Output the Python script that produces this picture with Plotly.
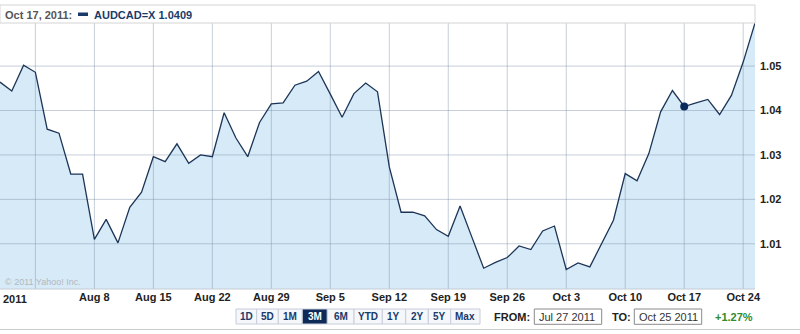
import pandas as pd
import plotly.graph_objects as go

# ---- data ----
dates = pd.bdate_range("2011-07-27", "2011-10-25").strftime("%Y-%m-%d").tolist()
values = [
    1.0464, 1.0444, 1.0502,
    1.0486, 1.0358, 1.0349, 1.0257, 1.0257,
    1.0110, 1.0155, 1.0102, 1.0182, 1.0216,
    1.0296, 1.0285, 1.0325, 1.0281, 1.0300,
    1.0296, 1.0395, 1.0338, 1.0296, 1.0373,
    1.0415, 1.0417, 1.0457, 1.0466, 1.0488,
    1.0437, 1.0385, 1.0438, 1.0462, 1.0442,
    1.0273, 1.0171, 1.0171, 1.0163, 1.0132,
    1.0117, 1.0185, 1.0115, 1.0045, 1.0058,
    1.0069, 1.0095, 1.0087, 1.0129, 1.0140,
    1.0042, 1.0057, 1.0048, 1.0101, 1.0153,
    1.0258, 1.0242, 1.0303, 1.0397, 1.0445,
    1.0409, 1.0417, 1.0425, 1.0391, 1.0434,
    1.0509, 1.0597,
]
tick_dates = ["2011-08-01", "2011-08-08", "2011-08-15", "2011-08-22", "2011-08-29",
              "2011-09-05", "2011-09-12", "2011-09-19", "2011-09-26", "2011-10-03",
              "2011-10-10", "2011-10-17", "2011-10-24"]
tick_labels = ["", "Aug 8", "Aug 15", "Aug 22", "Aug 29", "Sep 5", "Sep 12",
               "Sep 19", "Sep 26", "Oct 3", "Oct 10", "Oct 17", "Oct 24"]
y_ticks = [1.01, 1.02, 1.03, 1.04, 1.05]
y_labels = ["1.01", "1.02", "1.03", "1.04", "1.05"]
highlight_date = "2011-10-17"
highlight_value = 1.0409
buttons = ["1D", "5D", "1M", "3M", "6M", "YTD", "1Y", "2Y", "5Y", "Max"]

# ---- layout geometry (pixels) ----
W, H = 800, 334
PL, PR, PT, PB = 0, 755, 23, 289
PW, PH = PR - PL, PB - PT
Y_RANGE = [0.99982, 1.0597]
X_RANGE = ["2011-07-27", "2011-10-25"]


def px(x):
    return (x - PL) / PW


def py(y):
    return (PB - y) / PH


LINE = "#1c3557"
FILL = "rgb(214,234,248)"
GRID = "rgba(120,140,165,0.42)"
NAVY = "#1a3a6a"
FONT = "Liberation Sans, Arial, sans-serif"

fig = go.Figure()
# area fill only
fig.add_trace(go.Scatter(
    x=dates, y=values, mode="none", fill="tozeroy", fillcolor=FILL,
    hoverinfo="skip", showlegend=False))
# grid lines as line traces, drawn over the fill but under the price line
gx, gy = [], []
for d in tick_dates:
    gx += [d, d, None]
    gy += [Y_RANGE[0], Y_RANGE[1], None]
for v in y_ticks:
    gx += [X_RANGE[0], X_RANGE[1], None]
    gy += [v, v, None]
fig.add_trace(go.Scatter(
    x=gx, y=gy, mode="lines", line=dict(color=GRID, width=1),
    connectgaps=False, hoverinfo="skip", showlegend=False))
# price line
fig.add_trace(go.Scatter(
    x=dates, y=values, mode="lines",
    line=dict(color=LINE, width=1.3), hoverinfo="skip", showlegend=False))
fig.add_trace(go.Scatter(
    x=[highlight_date], y=[highlight_value], mode="markers",
    marker=dict(color="#0b2a5c", size=8), hoverinfo="skip", showlegend=False))

shapes = []
annotations = []

# header box
shapes.append(dict(type="rect", xref="paper", yref="paper",
                   x0=px(0), x1=px(755), y0=py(23), y1=py(5),
                   line=dict(color="#d4d4d4", width=1), fillcolor="white", layer="above"))
annotations.append(dict(xref="paper", yref="paper", x=px(3), y=py(14.5),
                        xanchor="left", yanchor="middle", showarrow=False,
                        text="<b>Oct 17, 2011:</b>",
                        font=dict(family=FONT, size=11, color="#555555")))
shapes.append(dict(type="rect", xref="paper", yref="paper",
                   x0=px(78), x1=px(88), y0=py(16), y1=py(12.5),
                   line=dict(width=0), fillcolor=NAVY, layer="above"))
annotations.append(dict(xref="paper", yref="paper", x=px(92), y=py(14.5),
                        xanchor="left", yanchor="middle", showarrow=False,
                        text="<b>AUDCAD=X 1.0409</b>",
                        font=dict(family=FONT, size=11, color=NAVY)))

# bottom axis line
shapes.append(dict(type="line", xref="paper", yref="paper",
                   x0=px(0), x1=px(755), y0=py(289), y1=py(289),
                   line=dict(color="#c4ccd6", width=1), layer="above"))

# copyright
annotations.append(dict(xref="paper", yref="paper", x=px(3), y=py(282),
                        xanchor="left", yanchor="middle", showarrow=False,
                        text="© 2011 Yahoo! Inc.",
                        font=dict(family=FONT, size=9, color="#b4b8bc")))
# year label
annotations.append(dict(xref="paper", yref="paper", x=px(1), y=py(298.5),
                        xanchor="left", yanchor="middle", showarrow=False,
                        text="<b>2011</b>",
                        font=dict(family=FONT, size=11, color="#222222")))

# range buttons
edges = [236, 256.7, 278.3, 302.3, 327.3, 354, 382.3, 405.7, 428.3, 450.7, 480]
for i, b in enumerate(buttons):
    sel = b == "3M"
    shapes.append(dict(type="rect", xref="paper", yref="paper",
                       x0=px(edges[i]), x1=px(edges[i + 1]), y0=py(324), y1=py(309),
                       line=dict(color="#c6ceda", width=1),
                       fillcolor="#0e2a57" if sel else "#f5f7fa", layer="above"))
    annotations.append(dict(xref="paper", yref="paper",
                            x=px((edges[i] + edges[i + 1]) / 2), y=py(316.5),
                            xanchor="center", yanchor="middle", showarrow=False,
                            text=f"<b>{b}</b>",
                            font=dict(family=FONT, size=10,
                                      color="white" if sel else NAVY)))

# FROM / TO
annotations.append(dict(xref="paper", yref="paper", x=px(532), y=py(316.5),
                        xanchor="right", yanchor="middle", showarrow=False,
                        text="<b>FROM:</b>",
                        font=dict(family=FONT, size=11, color="#222222")))
shapes.append(dict(type="rect", xref="paper", yref="paper",
                   x0=px(534.3), x1=px(601.7), y0=py(324.3), y1=py(309),
                   line=dict(color="#8a8a8a", width=1), fillcolor="white", layer="above"))
annotations.append(dict(xref="paper", yref="paper", x=px(537), y=py(316.5),
                        xanchor="left", yanchor="middle", showarrow=False,
                        text="Jul 27 2011",
                        font=dict(family=FONT, size=11, color="#333333")))
annotations.append(dict(xref="paper", yref="paper", x=px(632.5), y=py(316.5),
                        xanchor="right", yanchor="middle", showarrow=False,
                        text="<b>TO:</b>",
                        font=dict(family=FONT, size=11, color="#222222")))
shapes.append(dict(type="rect", xref="paper", yref="paper",
                   x0=px(634.3), x1=px(701.7), y0=py(324.3), y1=py(309),
                   line=dict(color="#8a8a8a", width=1), fillcolor="white", layer="above"))
annotations.append(dict(xref="paper", yref="paper", x=px(637), y=py(316.5),
                        xanchor="left", yanchor="middle", showarrow=False,
                        text="Oct 25 2011",
                        font=dict(family=FONT, size=11, color="#333333")))
annotations.append(dict(xref="paper", yref="paper", x=px(713), y=py(316.5),
                        xanchor="left", yanchor="middle", showarrow=False,
                        text="<b>+1.27%</b>",
                        font=dict(family=FONT, size=11, color="#2e8b2e")))

# bottom separator
shapes.append(dict(type="line", xref="paper", yref="paper",
                   x0=px(0), x1=px(800), y0=py(329.5), y1=py(329.5),
                   line=dict(color="#cccccc", width=1)))

fig.update_layout(
    width=W, height=H,
    margin=dict(l=PL, r=W - PR, t=PT, b=H - PB, pad=0),
    paper_bgcolor="white", plot_bgcolor="white",
    shapes=shapes, annotations=annotations,
    showlegend=False,
    xaxis=dict(
        type="date",
        range=X_RANGE,
        rangebreaks=[dict(bounds=["sat", "mon"])],
        tickmode="array", tickvals=tick_dates,
        ticktext=[f"<b>{t}</b>" if t else "" for t in tick_labels],
        showgrid=False,
        ticks="", showline=False, zeroline=False,
        tickfont=dict(family=FONT, size=11, color="#222222"),
        tickangle=0,
    ),
    yaxis=dict(
        range=Y_RANGE,
        side="right",
        tickmode="array", tickvals=y_ticks, ticktext=[f"<b>{t}</b>" for t in y_labels],
        showgrid=False,
        ticks="", showline=False, zeroline=False,
        tickfont=dict(family=FONT, size=11, color="#222222"),
        ticklabelstandoff=4,
    ),
)

fig.write_html("out.html")
